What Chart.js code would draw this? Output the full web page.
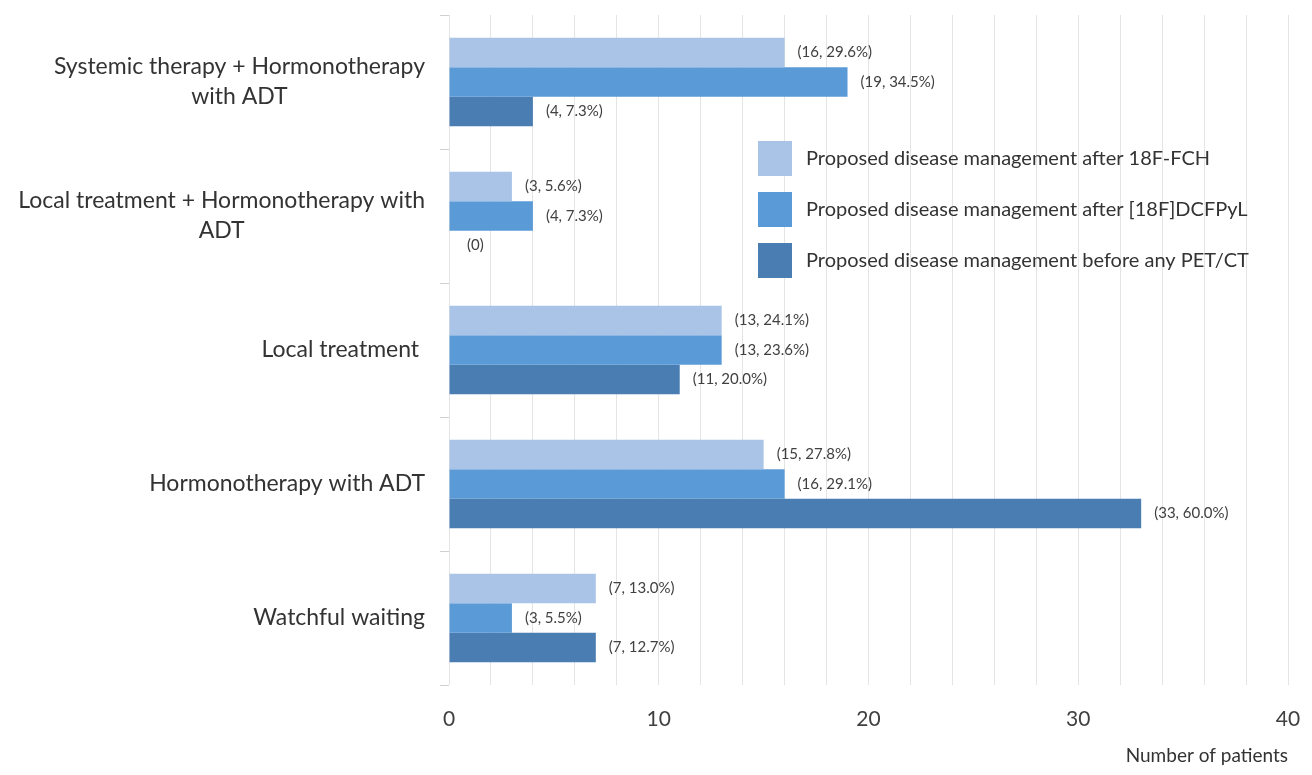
<!DOCTYPE html>
<html lang="en">
<head>
<meta charset="UTF-8">
<title>Proposed disease management</title>
<script src="https://cdn.jsdelivr.net/npm/chart.js@4.4.1/dist/chart.umd.min.js"></script>
<style>
    html, body { margin: 0; padding: 0; background: #fff; }
    #wrap { width: 1312px; height: 775px; }
</style>
</head>
<body>
<div id="wrap"><canvas id="chart"></canvas></div>
<script>
    // categories, top to bottom
    var categories = [
        ['Systemic therapy + Hormonotherapy', 'with ADT'],
        ['Local treatment + Hormonotherapy with', 'ADT'],
        'Local treatment ',
        'Hormonotherapy with ADT',
        'Watchful waiting'
    ]
    var seriesNames = [
        'Proposed disease management after 18F-FCH',
        'Proposed disease management after [18F]DCFPyL',
        'Proposed disease management before any PET/CT'
    ]
    var seriesColors = ['#a9c4e6', '#5a9ad6', '#4a7db1']

    var fchValues = [16, 3, 13, 15, 7]
    var fchPct = ['29.6%', '5.6%', '24.1%', '27.8%', '13.0%']
    var pylValues = [19, 4, 13, 16, 3]
    var pylPct = ['34.5%', '7.3%', '23.6%', '29.1%', '5.5%']
    var beforeValues = [4, 0, 11, 33, 7]
    var beforePct = ['7.3%', '', '20.0%', '60.0%', '12.7%']

    var xTickLabels = [0, 10, 20, 30, 40]
    var xTitle = 'Number of patients'

    var FONT = 'Lato'

    // value labels "(n, pct)" to the right of each bar
    var valueLabels = {
        id: 'valueLabels',
        afterDatasetsDraw: function(chart) {
            var ctx = chart.ctx
            ctx.save()
            ctx.font = '15px ' + FONT
            ctx.fillStyle = '#404040'
            ctx.textAlign = 'left'
            ctx.textBaseline = 'middle'
            chart.data.datasets.forEach(function(ds, di) {
                chart.getDatasetMeta(di).data.forEach(function(bar, i) {
                    var v = ds.data[i]
                    var txt = v === 0 ? '(0)' : '(' + v + ', ' + ds.pct[i] + ')'
                    ctx.fillText(txt, bar.x + (v === 0 ? 18 : 13), bar.y)
                })
            })
            ctx.restore()
        }
    }

    // category labels: multi line blocks centred, blocks right aligned
    var catLabels = {
        id: 'catLabels',
        afterDraw: function(chart) {
            var ctx = chart.ctx
            var y = chart.scales.y
            var right = chart.chartArea.left - 24
            ctx.save()
            ctx.font = '23px ' + FONT
            ctx.fillStyle = '#333333'
            ctx.textBaseline = 'middle'
            categories.forEach(function(lab, i) {
                var lines = Array.isArray(lab) ? lab : [lab]
                var w = Math.max.apply(null, lines.map(function(l) { return ctx.measureText(l).width }))
                var cx = right - w / 2
                var cy = y.getPixelForValue(i)
                var lh = 30
                ctx.textAlign = 'center'
                lines.forEach(function(l, k) {
                    ctx.fillText(l, cx, cy + (k - (lines.length - 1) / 2) * lh)
                })
            })
            ctx.restore()
        }
    }

    // legend drawn inside the plot area
    var innerLegend = {
        id: 'innerLegend',
        afterDraw: function(chart) {
            var ctx = chart.ctx
            var x0 = chart.chartArea.left + 309
            var y0 = chart.chartArea.top + 126
            ctx.save()
            ctx.font = '20px ' + FONT
            ctx.textAlign = 'left'
            ctx.textBaseline = 'middle'
            chart.data.datasets.forEach(function(ds, i) {
                var ry = y0 + i * 51
                ctx.fillStyle = ds.backgroundColor
                ctx.fillRect(x0, ry, 34, 35)
                ctx.fillStyle = '#333333'
                ctx.fillText(ds.label, x0 + 48, ry + 18)
            })
            ctx.restore()
        }
    }

    var chart_data = {
        type: 'bar',
        data: {
            labels: categories,
            datasets: [
                { label: seriesNames[0], data: fchValues, pct: fchPct, backgroundColor: seriesColors[0] },
                { label: seriesNames[1], data: pylValues, pct: pylPct, backgroundColor: seriesColors[1] },
                { label: seriesNames[2], data: beforeValues, pct: beforePct, backgroundColor: seriesColors[2] }
            ]
        },
        options: {
            indexAxis: 'y',
            responsive: true,
            maintainAspectRatio: false,
            animation: false,
            datasets: { bar: { categoryPercentage: 0.66, barPercentage: 1.0, borderWidth: 0 } },
            layout: { padding: { top: 15, right: 10, bottom: 0, left: 0 } },
            plugins: { legend: { display: false }, tooltip: { enabled: false } },
            scales: {
                x: {
                    min: 0,
                    max: 40,
                    border: { display: false },
                    grid: { color: '#e4e4e4', lineWidth: 1, drawTicks: false },
                    ticks: {
                        stepSize: 2,
                        autoSkip: false,
                        maxRotation: 0,
                        padding: 22,
                        color: '#404040',
                        font: { family: FONT, size: 21 },
                        callback: function(v) { return xTickLabels.indexOf(v) >= 0 ? String(v) : '' }
                    },
                    title: {
                        display: true,
                        text: xTitle,
                        align: 'end',
                        color: '#333333',
                        font: { family: FONT, size: 19 },
                        padding: { top: 8, bottom: 8 }
                    },
                    afterFit: function(scale) {
                        scale.height = 90
                        scale.paddingRight = 24
                    }
                },
                y: {
                    border: { display: false },
                    grid: { offset: true, drawOnChartArea: false, color: '#d0d0d0', tickLength: 9 },
                    ticks: { display: false },
                    afterFit: function(scale) { scale.width = 449 }
                }
            }
        },
        plugins: [valueLabels, catLabels, innerLegend]
    }

    window.addEventListener('load', function() {
        new Chart(document.getElementById('chart'), chart_data)
    })
</script>
</body>
</html>
